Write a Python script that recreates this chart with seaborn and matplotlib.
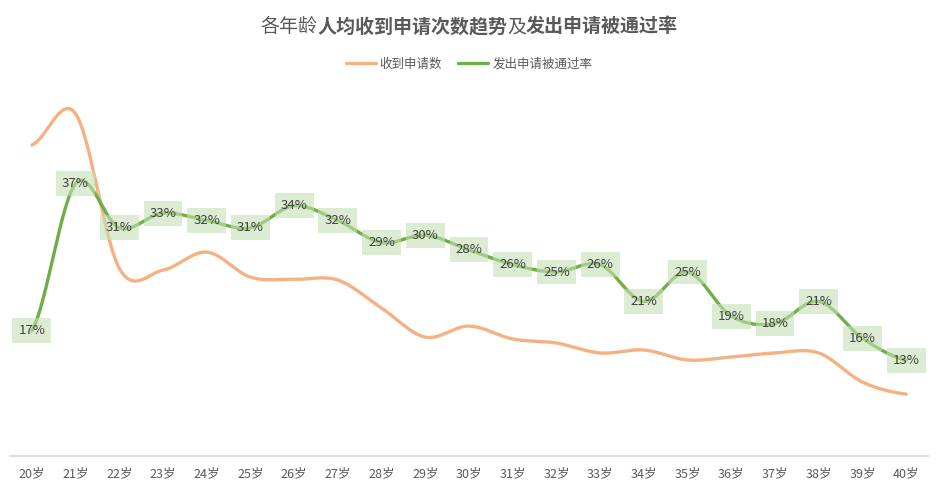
import matplotlib
matplotlib.use("Agg")
import matplotlib.pyplot as plt
import seaborn as sns
import numpy as np
import pandas as pd

sns.set_theme(style="white")
plt.rcParams['font.family'] = ['Noto Sans CJK SC', 'DejaVu Sans']

# data
ages = [f"{a}岁" for a in range(20, 41)]
received = [8.45, 9.3, 5.1, 5.05, 5.54, 4.86, 4.8, 4.78, 4.02, 3.23, 3.53,
            3.18, 3.07, 2.80, 2.88, 2.61, 2.69, 2.80, 2.80, 2.01, 1.68]
pass_rate = [0.17, 0.37, 0.31, 0.33, 0.32, 0.31, 0.34, 0.32, 0.29, 0.30, 0.28,
             0.26, 0.25, 0.26, 0.21, 0.25, 0.19, 0.18, 0.21, 0.16, 0.13]

ORANGE = "#f4b183"
GREEN = "#70ad47"
TEXT = "#595959"


def smooth(vals, n=40):
    # bezier smoothing through every point (like a spreadsheet "smoothed line")
    v = np.asarray(vals, dtype=float)
    xs, ys = [], []
    for i in range(len(v) - 1):
        p0 = v[i - 1] if i > 0 else v[i]
        p1, p2 = v[i], v[i + 1]
        p3 = v[i + 2] if i + 2 < len(v) else v[i + 1]
        c1 = p1 + (p2 - p0) / 6
        c2 = p2 - (p3 - p1) / 6
        t = np.linspace(0, 1, n, endpoint=False)
        ys.append((1 - t) ** 3 * p1 + 3 * (1 - t) ** 2 * t * c1 + 3 * (1 - t) * t ** 2 * c2 + t ** 3 * p2)
        xs.append(i + t)
    xs.append([len(v) - 1])
    ys.append([v[-1]])
    return pd.DataFrame({"x": np.concatenate(xs), "y": np.concatenate(ys)})


fig = plt.figure(figsize=(9.38, 4.94), dpi=100)
ax = fig.add_axes([10 / 938, 1 - 456 / 494, 918 / 938, 368 / 494])
ax2 = ax.twinx()

sns.lineplot(data=smooth(received), x="x", y="y", ax=ax2, color=ORANGE, lw=2.4, label="收到申请数")
sns.lineplot(data=smooth(pass_rate), x="x", y="y", ax=ax, color=GREEN, lw=2.4, label="发出申请被通过率")

ax.set_ylim(0, 0.5)
ax2.set_ylim(0, 10)
ax.set_xlim(-0.5, len(ages) - 0.5)
ax.set_zorder(ax2.get_zorder() + 1)
ax.patch.set_visible(False)

for i, v in enumerate(pass_rate):
    ax.text(i, v, f"{v:.0%}", ha="center", va="center", fontsize=9.5, color="#404040",
            bbox=dict(boxstyle="square,pad=0.45", fc="#c5e0b4", ec="none", alpha=0.6))

ax.set_xticks(range(len(ages)))
ax.set_xticklabels(ages, fontsize=9, color=TEXT)
ax.tick_params(axis="x", length=0, pad=8)
ax.set_yticks([])
ax2.set_yticks([])
ax.set_xlabel("")
ax.set_ylabel("")
ax2.set_ylabel("")
for a in (ax, ax2):
    for s in a.spines.values():
        s.set_visible(False)
ax.spines["bottom"].set_visible(True)
ax.spines["bottom"].set_color("#d9d9d9")

# legend with both series
h1, l1 = ax2.get_legend_handles_labels()
h2, l2 = ax.get_legend_handles_labels()
ax2.get_legend().remove()
ax.legend(h1 + h2, l1 + l2, ncol=2, frameon=False, fontsize=9, labelcolor=TEXT,
          loc="center", bbox_to_anchor=(0.5, 1 - 64 / 494), bbox_transform=fig.transFigure,
          handlelength=2.4, columnspacing=1.3, handletextpad=0.3)

# title with mixed weights
parts = [("各年龄", "normal"), ("人均收到申请次数趋势", "bold"), ("及", "normal"), ("发出申请被通过率", "bold")]
renderer = fig.canvas.get_renderer()
texts = []
for s, w in parts:
    t = fig.text(0, 1 - 27 / 494, s, fontsize=13.7, fontweight=w, color=TEXT, va="center")
    texts.append(t)
widths = [t.get_window_extent(renderer).width for t in texts]
x0 = (938 - sum(widths)) / 2
for t, w in zip(texts, widths):
    t.set_x(x0 / 938)
    x0 += w

fig.savefig("out.png", dpi=100)
